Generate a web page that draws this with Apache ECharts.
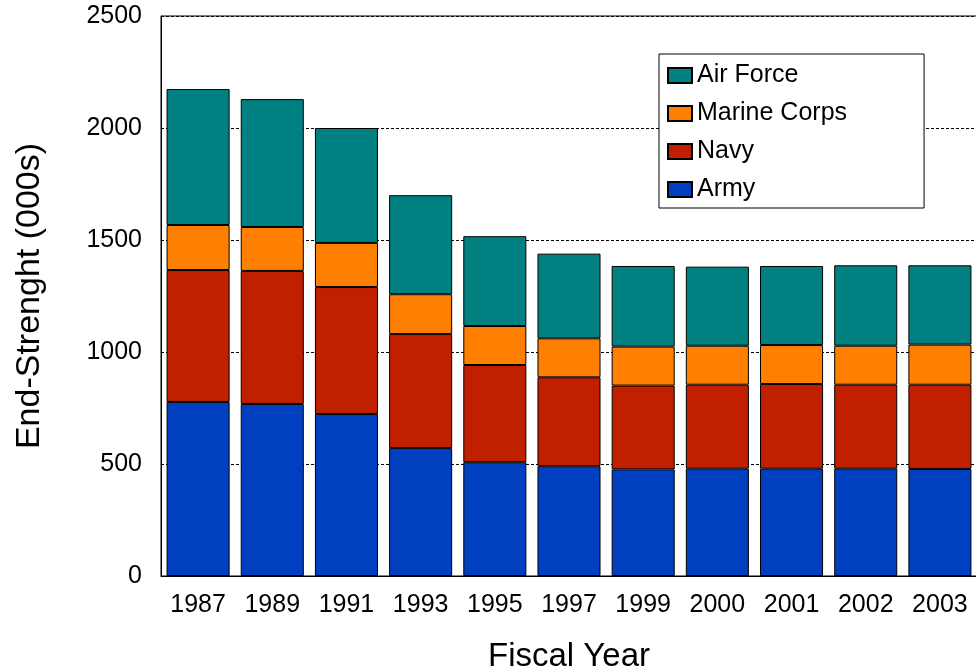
<!DOCTYPE html>
<html>
<head>
<meta charset="utf-8">
<script src="https://cdn.jsdelivr.net/npm/echarts@6/dist/echarts.min.js"></script>
<style>
html,body{margin:0;padding:0;background:#fff;}
#chart{width:976px;height:672px;}
</style>
</head>
<body>
<div id="chart"></div>
<script>
var categories = ['1987','1989','1991','1993','1995','1997','1999','2000','2001','2002','2003'];
var army       = [777, 768, 723, 571, 508, 490, 476, 479, 479, 479, 478];
var navy       = [589, 594, 567, 509, 434, 397, 374, 375, 378, 375, 376];
var marine     = [201, 196, 197, 178, 174, 174, 174, 174, 174, 174, 179];
var airForce   = [607, 571, 513, 442, 401, 378, 360, 353, 353, 359, 354];
var yTicks = [0, 500, 1000, 1500, 2000, 2500];

var FONT = '"Liberation Sans", Arial, sans-serif';
var chart = echarts.init(document.getElementById('chart'), null, {renderer: 'canvas'});

function mk(name, data, color) {
  return {
    name: name, type: 'bar', stack: 'total', data: data,
    barWidth: '85%',
    itemStyle: {color: color, borderColor: '#000', borderWidth: 1},
    emphasis: {disabled: true},
    animation: false
  };
}

chart.setOption({
  animation: false,
  textStyle: {fontFamily: FONT},
  grid: {left: 161, top: 16, width: 816, height: 560, show: true, borderColor: '#000', borderWidth: 1,
         containLabel: false, outerBoundsMode: 'none'},
  legend: {
    data: ['Air Force', 'Marine Corps', 'Navy', 'Army'],
    orient: 'vertical',
    left: 659, top: 54,
    padding: [9, 77, 6, 8],
    itemWidth: 24, itemHeight: 15, itemGap: 13,
    backgroundColor: '#fff',
    borderColor: '#000', borderWidth: 1, borderRadius: 0,
    icon: 'rect',
    selectedMode: false,
    textStyle: {fontFamily: FONT, fontSize: 25, color: '#000', lineHeight: 25}
  },
  xAxis: {
    type: 'category', data: categories,
    name: 'Fiscal Year', nameLocation: 'middle', nameGap: 64,
    nameTextStyle: {fontFamily: FONT, fontSize: 33, color: '#000'},
    axisLine: {show: true, lineStyle: {color: '#000', width: 1}},
    axisTick: {show: false},
    axisLabel: {fontFamily: FONT, fontSize: 25, color: '#000', margin: 17, interval: 0}
  },
  yAxis: {
    type: 'value', min: 0, max: 2500, interval: 500,
    name: 'End-Strenght (000s)', nameLocation: 'middle', nameGap: 114,
    nameTextStyle: {fontFamily: FONT, fontSize: 34, color: '#000'},
    axisLine: {show: true, lineStyle: {color: '#000', width: 1}},
    axisTick: {show: false},
    axisLabel: {fontFamily: FONT, fontSize: 25, color: '#000', margin: 19,
      formatter: function (v) { return yTicks.indexOf(v) >= 0 ? String(v) : ''; }},
    splitLine: {show: true, lineStyle: {color: '#000', width: 1, type: [3, 2]}}
  },
  series: [
    mk('Army', army, '#0040C0'),
    mk('Navy', navy, '#C02000'),
    mk('Marine Corps', marine, '#FF8000'),
    mk('Air Force', airForce, '#008080')
  ]
});
</script>
</body>
</html>
